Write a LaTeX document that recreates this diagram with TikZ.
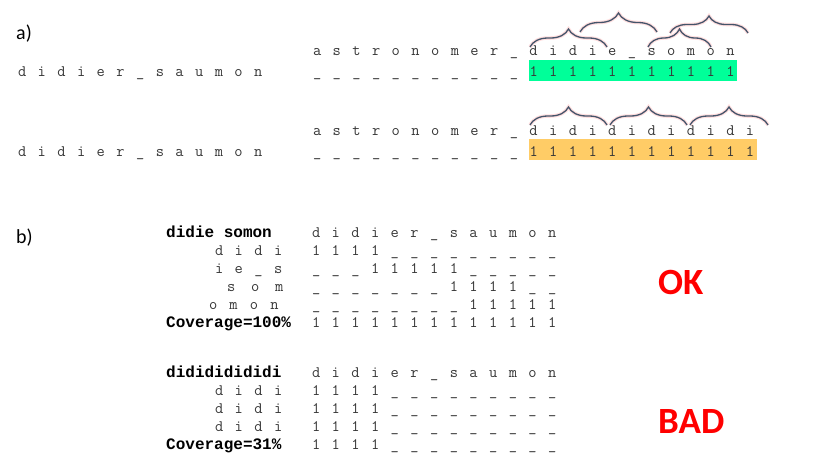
\documentclass[tikz,border=0pt]{standalone}
\usepackage{fontspec}
\usetikzlibrary{decorations.pathreplacing}
\newfontfamily\calib{Carlito}
\newfontfamily\lmono{Liberation Mono}
\definecolor{txt}{RGB}{55,55,55}
\definecolor{bracecol}{RGB}{68,84,106}
\definecolor{glowcol}{RGB}{255,200,200}
\definecolor{greenbox}{RGB}{0,255,153}
\definecolor{orangebox}{RGB}{255,204,102}
\newlength\cw \setlength\cw{9.84pt}
\newlength\stp
\newcommand\spc[2]{\setlength\stp{#1}\spcloop#2\relax}
\def\spcloop#1{\ifx#1\relax\else\makebox[\stp][l]{\makebox[\cw][c]{#1}}\expandafter\spcloop\fi}
\tikzset{
  mono/.style={font=\fontsize{16}{18}\selectfont\ttfamily, text=txt, inner sep=0pt, anchor=base west},
  bmono/.style={font=\fontsize{16}{18}\selectfont\lmono\bfseries, text=black, inner sep=0pt, anchor=base west},
  lab/.style={font=\fontsize{20}{24}\selectfont\calib, text=black, inner sep=0pt, anchor=base west},
  verdict/.style={font=\fontsize{37}{44}\selectfont\calib\bfseries, text=red, inner sep=0pt, anchor=base west},
  brcglow/.style={decorate, decoration={brace, amplitude=#1}, draw=glowcol, line width=3.5pt, opacity=0.6},
  brcline/.style={decorate, decoration={brace, amplitude=#1}, draw=bracecol, line width=1.3pt},
}
\newcommand\obrace[4]{\draw[brcglow=#4] (#1,#3) -- (#2,#3); \draw[brcline=#4] (#1,#3) -- (#2,#3);}
\begin{document}
\begin{tikzpicture}[x=1pt,y=-1pt]
\useasboundingbox (0,0) rectangle (830,475);
\fill[white] (0,0) rectangle (830,475);
% ---------- a)
\node[lab] (la) at (16,39) {a)};
% row 1
\fill[greenbox] (528.5,60) rectangle (737,81);
\node[mono] (a1left) at (17,76) {\spc{19.68pt}{didier\_saumon}};
\node[mono] (a1top) at (312,55) {\spc{19.68pt}{astronomer\_didie\_somon}};
\node[mono] (a1und) at (312,76) {\spc{19.68pt}{\_\_\_\_\_\_\_\_\_\_\_}};
\node[mono] (a1ones) at (528.5,76) {\spc{19.68pt}{11111111111}};
\obrace{530}{607}{47}{18}
\obrace{580}{657}{32}{19}
\obrace{648}{711}{47}{18}
\obrace{670}{748}{33}{17}
% row 2
\fill[orangebox] (528.5,139) rectangle (757,160);
\node[mono] (a2left) at (17,156) {\spc{19.68pt}{didier\_saumon}};
\node[mono] (a2top) at (312,135) {\spc{19.68pt}{astronomer\_didididididi}};
\node[mono] (a2und) at (312,156) {\spc{19.68pt}{\_\_\_\_\_\_\_\_\_\_\_}};
\node[mono] (a2ones) at (528.5,156) {\spc{19.68pt}{111111111111}};
\obrace{530}{607}{125}{18}
\obrace{610}{687}{125}{18}
\obrace{690}{768}{125}{18}
% ---------- b)
\node[lab] (lb) at (16,243) {b)};
% table 1
\node[bmono] (t1name) at (166,237) {didie somon};
\node[mono] (t1h) at (311,237) {\spc{19.68pt}{didier\_saumon}};
\node[mono] (t1l1) at (214,255) {\spc{19.68pt}{didi}};
\node[mono] (t1r1) at (311,255) {\spc{19.68pt}{1111\_\_\_\_\_\_\_\_\_}};
\node[mono] (t1l2) at (214,273) {\spc{19.68pt}{ie\_s}};
\node[mono] (t1r2) at (311,273) {\spc{19.68pt}{\_\_\_11111\_\_\_\_\_}};
\node[mono] (t1l3) at (226,291) {\spc{24pt}{som}};
\node[mono] (t1r3) at (311,291) {\spc{19.68pt}{\_\_\_\_\_\_\_1111\_\_}};
\node[mono] (t1l4) at (208,309) {\spc{20.5pt}{omon}};
\node[mono] (t1r4) at (311,309) {\spc{19.68pt}{\_\_\_\_\_\_\_\_11111}};
\node[bmono] (t1cov) at (166,327) {Coverage=100\%};
\node[mono] (t1rc) at (311,327) {\spc{19.68pt}{1111111111111}};
\node[verdict] (ok) at (658,294) {OK};
% table 2
\node[bmono] (t2name) at (166,377) {didididididi};
\node[mono] (t2h) at (311,377) {\spc{19.68pt}{didier\_saumon}};
\node[mono] (t2l1) at (214,395) {\spc{19.68pt}{didi}};
\node[mono] (t2r1) at (311,395) {\spc{19.68pt}{1111\_\_\_\_\_\_\_\_\_}};
\node[mono] (t2l2) at (214,413) {\spc{19.68pt}{didi}};
\node[mono] (t2r2) at (311,413) {\spc{19.68pt}{1111\_\_\_\_\_\_\_\_\_}};
\node[mono] (t2l3) at (214,431) {\spc{19.68pt}{didi}};
\node[mono] (t2r3) at (311,431) {\spc{19.68pt}{1111\_\_\_\_\_\_\_\_\_}};
\node[bmono] (t2cov) at (166,449) {Coverage=31\%};
\node[mono] (t2rc) at (311,449) {\spc{19.68pt}{1111\_\_\_\_\_\_\_\_\_}};
\node[verdict] (bad) at (658,433) {BAD};
\end{tikzpicture}
\end{document}
